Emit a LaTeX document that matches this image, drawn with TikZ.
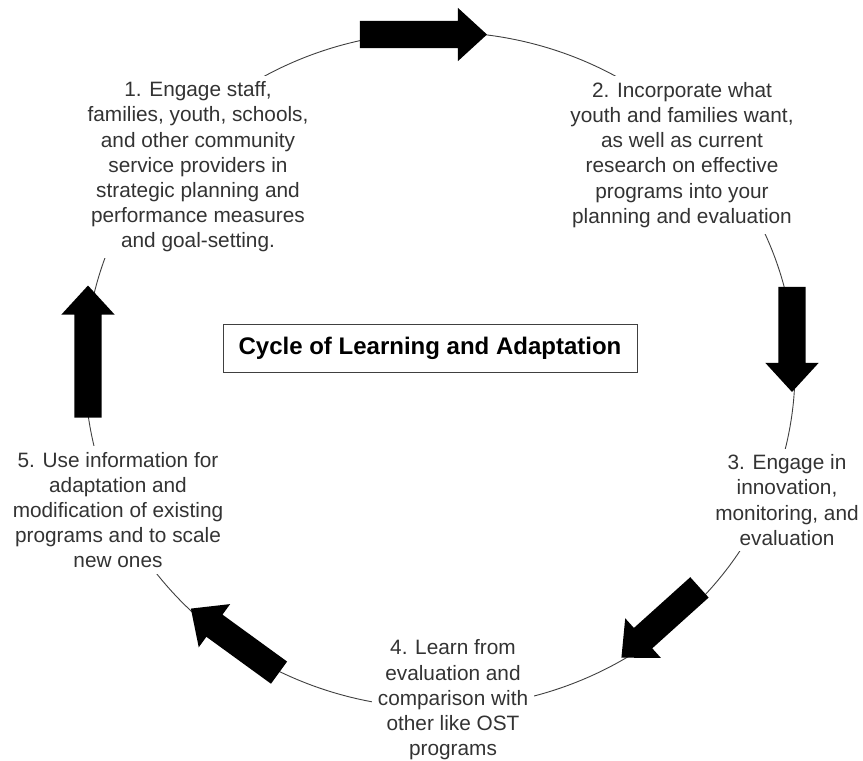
\documentclass[tikz,border=0pt]{standalone}
\usepackage{fontspec}
\setmainfont{Liberation Sans}
\usetikzlibrary{shapes.arrows}

\tikzset{
  stagetext/.style={fill=white, align=center, inner sep=6pt, text=black!80,
    font=\fontsize{20.8}{25.2}\selectfont},
  cyclearrow/.style={single arrow, fill=black, inner xsep=0pt, inner ysep=13.5pt,
    single arrow head extend=13pt, single arrow tip angle=85, minimum height=#1},
}

\begin{document}
\begin{tikzpicture}[x=1pt,y=-1pt]
\useasboundingbox (0,0) rectangle (863,761);
% cycle
\draw[black!75, line width=0.9pt] (440,370) ellipse [x radius=355pt, y radius=338pt];
% stages
\node (s1) at (198,167) [stagetext] {1. Engage staff,\\families, youth, schools,\\and other community\\service providers in\\strategic planning and\\performance measures\\and goal-setting.};
\node (s2) at (682,155) [stagetext] {2. Incorporate what\\youth and families want,\\as well as current\\research on effective\\programs into your\\planning and evaluation};
\node (s3) at (787,500) [stagetext] {3. Engage in\\innovation,\\monitoring, and\\evaluation};
\node (s4) at (453,700) [stagetext] {4. Learn from\\evaluation and\\comparison with\\other like OST\\programs};
\node (s5) at (118,510) [stagetext] {5. Use information for\\adaptation and\\modification of existing\\programs and to scale\\new ones};
% title
\node (title) at (430,348) [draw=black!75, line width=1pt, fill=white, minimum width=414pt, minimum height=48pt,
  font=\bfseries\fontsize{24}{28}\selectfont] {Cycle of Learning and Adaptation};
% arrows
\node (a12) at (416,34.5) [cyclearrow=127pt] {};
\node (a23) at (792,332) [cyclearrow=105pt, rotate=-90] {};
\node (a34) at (666,617.5) [cyclearrow=105pt, rotate=222] {};
\node (a45) at (241,645) [cyclearrow=109pt, rotate=144] {};
\node (a51) at (88,359) [cyclearrow=132pt, rotate=90] {};
\end{tikzpicture}
\end{document}
